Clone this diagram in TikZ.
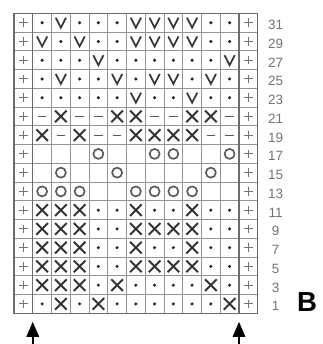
\documentclass[tikz,border=0pt]{standalone}
\usepackage{fontspec}
\setmainfont{Liberation Sans}
\usetikzlibrary{arrows.meta}

\tikzset{
  gridline/.style={gray!85, line width=0.8pt},
  edgeline/.style={gray!85!black, line width=1.2pt},
  rownum/.style={text=black!55, font=\fontsize{11.5}{12}\selectfont, inner sep=0pt},
  chartname/.style={text=black, font=\fontsize{23.5}{24}\selectfont\bfseries, inner sep=0pt},
  arrowup/.style={black, line width=2pt, -{Triangle[length=13pt,width=10.5pt]}},
  kplus/.pic={\draw[black!55, line width=1pt] (-0.13,0) -- (0.13,0) (0,-0.13) -- (0,0.13);},
  kdot/.pic={\fill[black!85] (0,0) circle (0.052);},
  kv/.pic={\draw[black!78, line width=1.5pt] (-0.155,0.15) -- (0,-0.15) -- (0.155,0.15);},
  kx/.pic={\draw[black!80, line width=1.6pt] (-0.175,-0.175) -- (0.175,0.175) (-0.175,0.175) -- (0.175,-0.175);},
  kdash/.pic={\draw[black!65, line width=1.1pt] (-0.13,0) -- (0.13,0);},
  ko/.pic={\draw[black!65, line width=1.4pt] (0,0) circle (0.15);}
}

\begin{document}
\begin{tikzpicture}[scale=0.5625, yscale=-1]
\fill[white] (-0.747,-0.709) rectangle (16.48,17.64);
\useasboundingbox (-0.747,-0.709) rectangle (16.48,17.64);
\draw[step=1cm,gridline] (0,0) grid (13,16);
\draw[edgeline] (0,0) rectangle (13,16);
\draw[edgeline] (1,0) -- (1,16) (12,0) -- (12,16);
% row 31
\path (0.5,0.5) pic {kplus} (1.5,0.5) pic {kdot} (2.5,0.5) pic {kv} (3.5,0.5) pic {kdot} (4.5,0.5) pic {kdot} (5.5,0.5) pic {kdot} (6.5,0.5) pic {kv}
  (7.5,0.5) pic {kv} (8.5,0.5) pic {kv} (9.5,0.5) pic {kv} (10.5,0.5) pic {kdot} (11.5,0.5) pic {kdot} (12.5,0.5) pic {kplus};
% row 29
\path (0.5,1.5) pic {kplus} (1.5,1.5) pic {kv} (2.5,1.5) pic {kdot} (3.5,1.5) pic {kv} (4.5,1.5) pic {kdot} (5.5,1.5) pic {kdot} (6.5,1.5) pic {kv}
  (7.5,1.5) pic {kv} (8.5,1.5) pic {kv} (9.5,1.5) pic {kv} (10.5,1.5) pic {kdot} (11.5,1.5) pic {kdot} (12.5,1.5) pic {kplus};
% row 27
\path (0.5,2.5) pic {kplus} (1.5,2.5) pic {kdot} (2.5,2.5) pic {kdot} (3.5,2.5) pic {kdot} (4.5,2.5) pic {kv} (5.5,2.5) pic {kdot} (6.5,2.5) pic {kdot}
  (7.5,2.5) pic {kdot} (8.5,2.5) pic {kdot} (9.5,2.5) pic {kdot} (10.5,2.5) pic {kdot} (11.5,2.5) pic {kv} (12.5,2.5) pic {kplus};
% row 25
\path (0.5,3.5) pic {kplus} (1.5,3.5) pic {kdot} (2.5,3.5) pic {kv} (3.5,3.5) pic {kdot} (4.5,3.5) pic {kdot} (5.5,3.5) pic {kv} (6.5,3.5) pic {kdot}
  (7.5,3.5) pic {kv} (8.5,3.5) pic {kv} (9.5,3.5) pic {kdot} (10.5,3.5) pic {kv} (11.5,3.5) pic {kdot} (12.5,3.5) pic {kplus};
% row 23
\path (0.5,4.5) pic {kplus} (1.5,4.5) pic {kdot} (2.5,4.5) pic {kdot} (3.5,4.5) pic {kdot} (4.5,4.5) pic {kdot} (5.5,4.5) pic {kdot} (6.5,4.5) pic {kv}
  (7.5,4.5) pic {kdot} (8.5,4.5) pic {kdot} (9.5,4.5) pic {kv} (10.5,4.5) pic {kdot} (11.5,4.5) pic {kdot} (12.5,4.5) pic {kplus};
% row 21
\path (0.5,5.5) pic {kplus} (1.5,5.5) pic {kdash} (2.5,5.5) pic {kx} (3.5,5.5) pic {kdash} (4.5,5.5) pic {kdash} (5.5,5.5) pic {kx} (6.5,5.5) pic {kx}
  (7.5,5.5) pic {kdash} (8.5,5.5) pic {kdash} (9.5,5.5) pic {kx} (10.5,5.5) pic {kx} (11.5,5.5) pic {kdash} (12.5,5.5) pic {kplus};
% row 19
\path (0.5,6.5) pic {kplus} (1.5,6.5) pic {kx} (2.5,6.5) pic {kdash} (3.5,6.5) pic {kx} (4.5,6.5) pic {kdash} (5.5,6.5) pic {kdash} (6.5,6.5) pic {kx}
  (7.5,6.5) pic {kx} (8.5,6.5) pic {kx} (9.5,6.5) pic {kx} (10.5,6.5) pic {kdash} (11.5,6.5) pic {kdash} (12.5,6.5) pic {kplus};
% row 17
\path (0.5,7.5) pic {kplus} (4.5,7.5) pic {ko} (7.5,7.5) pic {ko} (8.5,7.5) pic {ko} (11.5,7.5) pic {ko} (12.5,7.5) pic {kplus};
% row 15
\path (0.5,8.5) pic {kplus} (2.5,8.5) pic {ko} (5.5,8.5) pic {ko} (10.5,8.5) pic {ko} (12.5,8.5) pic {kplus};
% row 13
\path (0.5,9.5) pic {kplus} (1.5,9.5) pic {ko} (2.5,9.5) pic {ko} (3.5,9.5) pic {ko} (6.5,9.5) pic {ko}
  (7.5,9.5) pic {ko} (8.5,9.5) pic {ko} (9.5,9.5) pic {ko} (12.5,9.5) pic {kplus};
% row 11
\path (0.5,10.5) pic {kplus} (1.5,10.5) pic {kx} (2.5,10.5) pic {kx} (3.5,10.5) pic {kx} (4.5,10.5) pic {kdot} (5.5,10.5) pic {kdot} (6.5,10.5) pic {kx}
  (7.5,10.5) pic {kdot} (8.5,10.5) pic {kdot} (9.5,10.5) pic {kx} (10.5,10.5) pic {kdot} (11.5,10.5) pic {kdot} (12.5,10.5) pic {kplus};
% row 9
\path (0.5,11.5) pic {kplus} (1.5,11.5) pic {kx} (2.5,11.5) pic {kx} (3.5,11.5) pic {kx} (4.5,11.5) pic {kdot} (5.5,11.5) pic {kdot} (6.5,11.5) pic {kx}
  (7.5,11.5) pic {kx} (8.5,11.5) pic {kx} (9.5,11.5) pic {kx} (10.5,11.5) pic {kdot} (11.5,11.5) pic {kdot} (12.5,11.5) pic {kplus};
% row 7
\path (0.5,12.5) pic {kplus} (1.5,12.5) pic {kx} (2.5,12.5) pic {kx} (3.5,12.5) pic {kx} (4.5,12.5) pic {kdot} (5.5,12.5) pic {kdot} (6.5,12.5) pic {kx}
  (7.5,12.5) pic {kdot} (8.5,12.5) pic {kdot} (9.5,12.5) pic {kx} (10.5,12.5) pic {kdot} (11.5,12.5) pic {kdot} (12.5,12.5) pic {kplus};
% row 5
\path (0.5,13.5) pic {kplus} (1.5,13.5) pic {kx} (2.5,13.5) pic {kx} (3.5,13.5) pic {kx} (4.5,13.5) pic {kdot} (5.5,13.5) pic {kdot} (6.5,13.5) pic {kx}
  (7.5,13.5) pic {kx} (8.5,13.5) pic {kx} (9.5,13.5) pic {kx} (10.5,13.5) pic {kdot} (11.5,13.5) pic {kdot} (12.5,13.5) pic {kplus};
% row 3
\path (0.5,14.5) pic {kplus} (1.5,14.5) pic {kx} (2.5,14.5) pic {kx} (3.5,14.5) pic {kx} (4.5,14.5) pic {kdot} (5.5,14.5) pic {kx} (6.5,14.5) pic {kdot}
  (7.5,14.5) pic {kdot} (8.5,14.5) pic {kdot} (9.5,14.5) pic {kdot} (10.5,14.5) pic {kx} (11.5,14.5) pic {kdot} (12.5,14.5) pic {kplus};
% row 1
\path (0.5,15.5) pic {kplus} (1.5,15.5) pic {kdot} (2.5,15.5) pic {kx} (3.5,15.5) pic {kdot} (4.5,15.5) pic {kx} (5.5,15.5) pic {kdot} (6.5,15.5) pic {kdot}
  (7.5,15.5) pic {kdot} (8.5,15.5) pic {kdot} (9.5,15.5) pic {kdot} (10.5,15.5) pic {kdot} (11.5,15.5) pic {kx} (12.5,15.5) pic {kplus};
% row numbers
\node[rownum] (n31) at (13.95,0.62) {31};
\node[rownum] (n29) at (13.95,1.62) {29};
\node[rownum] (n27) at (13.95,2.62) {27};
\node[rownum] (n25) at (13.95,3.62) {25};
\node[rownum] (n23) at (13.95,4.62) {23};
\node[rownum] (n21) at (13.95,5.62) {21};
\node[rownum] (n19) at (13.95,6.62) {19};
\node[rownum] (n17) at (13.95,7.62) {17};
\node[rownum] (n15) at (13.95,8.62) {15};
\node[rownum] (n13) at (13.95,9.62) {13};
\node[rownum] (n11) at (13.95,10.62) {11};
\node[rownum] (n9) at (13.95,11.62) {9};
\node[rownum] (n7) at (13.95,12.62) {7};
\node[rownum] (n5) at (13.95,13.62) {5};
\node[rownum] (n3) at (13.95,14.62) {3};
\node[rownum] (n1) at (13.95,15.62) {1};
\node[chartname] (chartB) at (15.63,15.38) {B};
% start arrows
\coordinate (leftfoot) at (1,17.64);
\coordinate (lefttip) at (1,16.45);
\coordinate (rightfoot) at (12,17.64);
\coordinate (righttip) at (12,16.45);
\draw[arrowup] (leftfoot) -- (lefttip);
\draw[arrowup] (rightfoot) -- (righttip);
\end{tikzpicture}
\end{document}
